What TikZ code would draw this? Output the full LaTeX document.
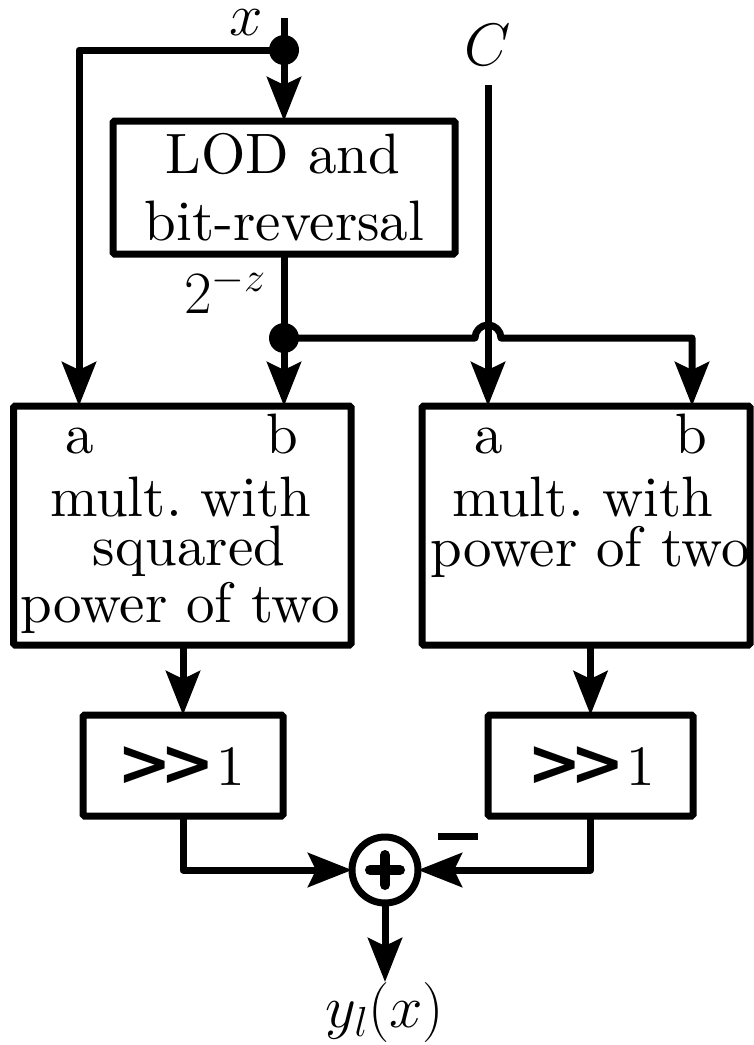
\RequirePackage{fix-cm}
\documentclass[tikz,border=0pt]{standalone}
\usepackage{fontspec}
\setmainfont{lmroman10-regular.otf}[BoldFont=lmroman10-bold.otf, ItalicFont=lmroman10-italic.otf]
\newfontfamily\shfont{DejaVu Sans Bold}
\usetikzlibrary{arrows.meta}
\tikzset{
  wire/.style={line width=7pt, line join=round},
  arr/.style={wire, -{Stealth[length=44pt,width=34pt,inset=8pt]}},
  blk/.style={draw, line width=7pt, rounded corners=1.5pt, inner sep=0pt, outer sep=0pt},
  txt/.style={font=\fontsize{57}{68}\selectfont, inner sep=0pt, outer sep=0pt, anchor=base},
  mtxt/.style={txt, font=\fontsize{60}{70}\selectfont},
  jdot/.style={circle, fill, inner sep=0pt, outer sep=0pt, minimum size=30pt},
}
\newcommand{\shiftone}{{\fontsize{65}{70}\selectfont\shfont >\kern-11pt>}\kern1pt 1}
\begin{document}
\begin{tikzpicture}[x=1pt, y=-1pt]
\useasboundingbox (0,0) rectangle (753,1045);

% blocks
\node[blk, minimum width=342pt, minimum height=133pt] (lod) at (284,187.5) {};
\node[blk, minimum width=337.5pt, minimum height=239pt] (mulL) at (182.25,525.5) {};
\node[blk, minimum width=328pt, minimum height=239pt] (mulR) at (586,525.5) {};
\node[blk, minimum width=200pt, minimum height=101pt] (shL) at (183,765.5) {};
\node[blk, minimum width=205pt, minimum height=101pt] (shR) at (590.5,765.5) {};
\node[circle, draw, line width=7pt, inner sep=0pt, outer sep=0pt, minimum size=66pt] (sum) at (385,870) {};

% texts in blocks
\node[txt] (lod1) at (283,173) {LOD and};
\node[txt] (lod2) at (284.5,240) {bit-reversal};
\node[txt] (aL) at (80,453) {a};
\node[txt] (bL) at (282,453) {b};
\node[txt] (mL1) at (181,516) {mult.\ with};
\node[txt] (mL2) at (189,565) {squared};
\node[txt] (mL3) at (180,622) {power of two};
\node[txt] (aR) at (489,453) {a};
\node[txt] (bR) at (691,453) {b};
\node[txt] (mR1) at (583,516) {mult.\ with};
\node[txt, anchor=base west] (mR2) at (430,566) {power of two};
\node[txt] (sL) at (181,785) {\shiftone};
\node[txt] (sR) at (591,785) {\shiftone};

% plus sign in sum
\draw[line width=10pt, line cap=round] (370,870) -- (400,870) (385,855) -- (385,885);
% minus sign
\node[fill, inner sep=0pt, minimum width=40pt, minimum height=7pt] (minus) at (458,836) {};

% labels
\node[mtxt] (xl) at (246,35) {$x$};
\node[mtxt] (Cl) at (488,65) {$C$};
\node[mtxt, anchor=base west] (zl) at (184,313) {$2^{-z}$};
\node[mtxt] (yl) at (385,1027) {$y_l(x)$};

% junctions
\node[jdot] (j1) at (284,50) {};
\node[jdot] (j2) at (284,338) {};
\coordinate (xin) at (284,18);
\coordinate (cin) at (488,85);
\coordinate (yout) at (385,982);

% connectors
\draw[wire] (xin) -- (j1.center);
\draw[arr] (j1.center) -- (lod.north);
\draw[arr] (j1.center) -| ([xshift=65.5pt]mulL.north west);
\draw[wire] (lod.south) -- (j2.center);
\draw[arr] (j2.center) -- (mulL.north -| j2);
\draw[arr] (j2.center) -- (475,338) arc[start angle=180, end angle=0, radius=13pt] -| ([xshift=270pt]mulR.north west);
\draw[arr] (cin) -- ([xshift=66pt]mulR.north west);
\draw[arr] (mulL.south -| shL) -- (shL.north);
\draw[arr] (mulR.south -| shR) -- (shR.north);
\draw[arr] (shL.south) |- (sum.west);
\draw[arr] (shR.south) |- (sum.east);
\draw[arr] (sum.south) -- (yout);
\end{tikzpicture}
\end{document}
